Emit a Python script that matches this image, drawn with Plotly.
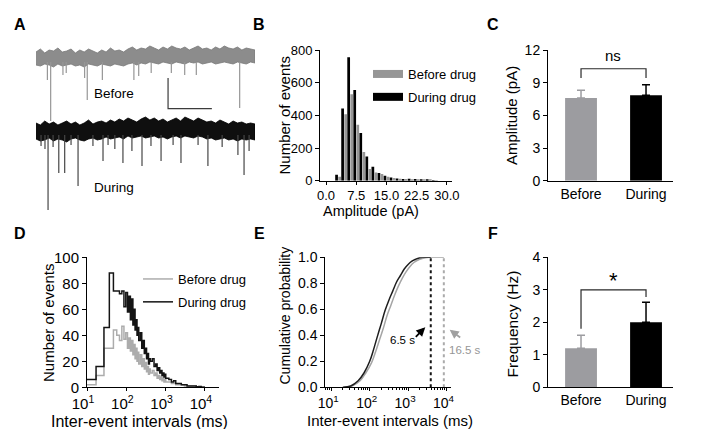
import plotly.graph_objects as go

W, H = 708, 429
FONT = "Liberation Sans, Arial, sans-serif"


def px(x):
    return x / W


def py(y):
    return 1 - y / H


# ---------------- DATA ----------------
# A: example traces (time in s, current in pA relative to baseline); noise envelope read per 0.2 s
trace_t = [round(i * 0.2, 1) for i in range(51)]
before_hi = [6, 9, 5, 8, 7, 10, 6, 7, 9, 5, 8, 6, 9, 7, 5, 8, 6, 10, 7, 8, 6, 9, 11, 8, 10, 9,
             12, 10, 8, 11, 9, 12, 10, 9, 11, 8, 10, 12, 9, 10, 8, 11, 9, 12, 10, 9, 11, 8, 10, 9, 8]
before_lo = [-7, -8, -6, -7, -9, -6, -8, -7, -6, -8, -7, -9, -6, -7, -8, -6, -7, -8, -6, -7,
             -8, -6, -5, -7, -5, -6, -4, -5, -6, -4, -5, -6, -4, -5, -6, -4, -5, -4, -6, -5,
             -4, -6, -5, -4, -5, -6, -4, -5, -6, -4, -5]
during_hi = [8, 6, 10, 7, 9, 6, 8, 10, 7, 9, 6, 8, 11, 7, 9, 10, 8, 11, 9, 12, 10, 13, 11, 9,
             12, 14, 11, 13, 10, 12, 9, 11, 13, 10, 14, 12, 10, 13, 11, 9, 10, 8, 11, 9, 7, 10,
             8, 9, 7, 8, 7]
during_lo = [-8, -10, -9, -7, -10, -8, -9, -11, -8, -7, -9, -10, -8, -7, -9, -8, -6, -8, -7, -6,
             -8, -5, -7, -6, -5, -7, -6, -5, -7, -6, -8, -6, -5, -7, -5, -6, -7, -5, -6, -8,
             -7, -9, -8, -7, -9, -8, -10, -8, -9, -8, -9]
before_evt_t = [0.52, 0.67, 1.23, 1.38, 2.22, 2.34, 3.03, 4.47, 4.69, 5.26, 6.18, 6.79, 7.32, 9.3]
before_evt_amp = [22, 63, 17, 15, 20, 42, 22, 22, 18, 15, 15, 17, 17, 50]
during_evt_t = [0.23, 0.41, 0.55, 0.78, 1.04, 1.31, 1.6, 1.92, 2.6, 3.06, 3.29, 3.6, 3.97,
                4.38, 4.84, 5.25, 5.71, 6.26, 6.62, 7.4, 7.85, 8.5, 9.22, 9.5, 9.73]
during_evt_amp = [15, 18, 79, 16, 42, 42, 14, 55, 15, 30, 14, 18, 32,
                  20, 35, 15, 30, 14, 32, 14, 35, 16, 24, 44, 20]
before_offset, during_offset = 0, -73
scalebar_t, scalebar_len_s = 6.03, 2.0
scalebar_top, scalebar_len_pA = -20, 30.7

# B: amplitude histogram
amp_bins = [3.0, 4.5, 6.0, 7.5, 9.0, 10.5, 12.0, 13.5, 15.0, 16.5, 18.0, 19.5, 21.0, 22.5, 24.0,
            25.5, 27.0]
amp_before = [24, 408, 531, 344, 176, 72, 51, 41, 24, 16, 12, 10, 8, 6, 5, 3, 2]
amp_during = [37, 443, 758, 556, 293, 149, 86, 47, 31, 20, 14, 10, 12, 10, 6, 4, 2]

# C: mean amplitude
groups = ["Before", "During"]
amp_mean = [7.6, 7.86]
amp_sem = [0.72, 0.98]

# D: inter-event interval histogram (bin edges in ms)
iei_edges = [10, 17, 27, 37, 47, 57, 67, 77, 87, 97, 107, 117, 127, 137, 147, 157, 167, 177, 187,
             197, 207, 227, 247, 267, 287, 307, 327, 347, 367, 387, 407, 457, 507, 557, 607, 657,
             707, 757, 807, 857, 907, 957, 1007, 1207, 1407, 1607, 1807, 2007, 2507, 3007, 3507,
             4007, 5007, 6007, 7007, 8007, 9007, 10007]
iei_before = [2, 9, 30, 30, 44, 40, 36, 47, 37, 42, 30, 38, 28, 36, 25, 33, 22, 30, 20, 27,
              18, 25, 16, 22, 14, 19, 12, 16, 10, 14,
              11, 13, 9, 11, 7, 9, 6, 8, 5, 7, 4, 6,
              4, 4, 3, 3, 2, 2, 2, 1, 1, 1, 1, 0.5, 1, 0.5, 0.5]
iei_during = [6, 16, 46, 88, 74, 74, 72, 74, 62, 73, 58, 70, 52, 68, 48, 60, 44, 52, 40, 46,
              36, 42, 30, 36, 26, 30, 22, 26, 18, 22,
              20, 22, 16, 18, 13, 15, 11, 13, 9, 11, 8, 10,
              7, 6, 4, 5, 3, 3, 2, 2, 1, 1, 1, 0.5, 0.5, 0, 0]

# E: cumulative probability
cdf_during_ms = [20, 32, 50, 71, 100, 126, 158, 200, 251, 316, 398, 501, 631, 794, 1000, 1259,
                 1585, 1995, 2512, 3890]
cdf_during_p = [0.0, 0.01, 0.05, 0.11, 0.2, 0.29, 0.39, 0.49, 0.59, 0.67, 0.74, 0.81, 0.86, 0.91,
                0.945, 0.97, 0.985, 0.997, 1.0, 1.0]
cdf_before_ms = [22, 35, 56, 79, 112, 141, 178, 224, 282, 355, 447, 562, 708, 891, 1122, 1413,
                 1995, 2818, 3548, 8510]
cdf_before_p = [0.0, 0.01, 0.05, 0.11, 0.19, 0.27, 0.36, 0.45, 0.55, 0.63, 0.71, 0.78, 0.84, 0.89,
                0.93, 0.96, 0.985, 0.997, 1.0, 1.0]
max_iei_ms = [3890, 8510]
max_iei_label = ["6.5 s", "16.5 s"]

# F: frequency
freq_mean = [1.2, 2.0]
freq_sem = [0.4, 0.62]

GRAY_TRACE = "rgb(140,140,140)"
GRAY_BAR = "rgb(156,156,160)"
GRAY_HIST = "rgb(150,150,150)"
GRAY_LINE = "rgb(172,172,172)"
BLACK = "rgb(0,0,0)"

fig = go.Figure()

# ---------------- A ----------------
for base, hi, lo, col, edge in [(before_offset, before_hi, before_lo, GRAY_TRACE, "rgb(120,120,120)"),
                                (during_offset, during_hi, during_lo, "rgb(15,15,15)", "rgb(0,0,0)")]:
    fig.add_trace(go.Scatter(
        x=trace_t + trace_t[::-1],
        y=[base + v for v in hi] + [base + v for v in lo[::-1]],
        fill="toself", fillcolor=col, mode="lines", line=dict(color=edge, width=0.8),
        xaxis="x", yaxis="y", showlegend=False, hoverinfo="skip"))

for base, ts, amps, col in [(before_offset, before_evt_t, before_evt_amp, "rgb(150,150,150)"),
                            (during_offset, during_evt_t, during_evt_amp, "rgb(70,70,70)")]:
    xs, ys = [], []
    for t, a in zip(ts, amps):
        xs += [t, t, None]
        ys += [base - 4, base - a, None]
    fig.add_trace(go.Scatter(x=xs, y=ys, mode="lines", line=dict(color=col, width=1.2),
                             xaxis="x", yaxis="y", showlegend=False, hoverinfo="skip"))

# scale bar
fig.add_trace(go.Scatter(
    x=[scalebar_t, scalebar_t, scalebar_t + scalebar_len_s],
    y=[scalebar_top, scalebar_top - scalebar_len_pA, scalebar_top - scalebar_len_pA],
    mode="lines", line=dict(color="rgb(60,60,60)", width=1.2),
    xaxis="x", yaxis="y", showlegend=False, hoverinfo="skip"))

# ---------------- B ----------------
fig.add_trace(go.Bar(x=amp_bins, y=amp_during, name="During drug", marker_color=BLACK,
                     width=0.68, offset=-0.72, xaxis="x2", yaxis="y2", showlegend=False,
                     marker_line_width=0))
fig.add_trace(go.Bar(x=amp_bins, y=amp_before, name="Before drug", marker_color=GRAY_HIST,
                     width=0.68, offset=0.04, xaxis="x2", yaxis="y2", showlegend=False,
                     marker_line_width=0))
# legend entries for B drawn as wide swatches
for name, col, rank in [("Before drug", GRAY_HIST, 1), ("During drug", BLACK, 2)]:
    fig.add_trace(go.Scatter(x=[None], y=[None], mode="lines", name=name,
                             line=dict(color=col, width=8), xaxis="x2", yaxis="y2",
                             legend="legend", legendrank=rank, legendgroup="b" + str(rank)))

# ---------------- C ----------------
for i, col in enumerate([GRAY_BAR, BLACK]):
    fig.add_trace(go.Bar(
        x=[groups[i]], y=[amp_mean[i]], width=0.49, marker_color=col, showlegend=False,
        marker_line_width=0,
        error_y=dict(type="data", array=[amp_sem[i]], arrayminus=[0], symmetric=False,
                     color=col, thickness=1.5, width=4),
        xaxis="x3", yaxis="y3"))
fig.add_trace(go.Scatter(x=[groups[0], groups[0], groups[1], groups[1]],
                         y=[9.45, 10.3, 10.3, 9.45], mode="lines",
                         line=dict(color="rgb(40,40,40)", width=1.2),
                         xaxis="x3", yaxis="y3", showlegend=False, hoverinfo="skip"))

# ---------------- D ----------------
for name, counts, col, rank in [("Before drug", iei_before, GRAY_LINE, 1),
                                ("During drug", iei_during, "rgb(20,20,20)", 2)]:
    fig.add_trace(go.Scatter(x=iei_edges, y=counts + [counts[-1]], mode="lines",
                             line=dict(color=col, width=1.5, shape="hv"), name=name,
                             xaxis="x4", yaxis="y4", legend="legend2", legendrank=rank,
                             legendgroup="d" + str(rank)))

# ---------------- E ----------------
fig.add_trace(go.Scatter(x=cdf_before_ms, y=cdf_before_p, mode="lines",
                         line=dict(color="rgb(165,165,165)", width=1.5, shape="spline"),
                         xaxis="x5", yaxis="y5", showlegend=False))
fig.add_trace(go.Scatter(x=cdf_during_ms, y=cdf_during_p, mode="lines",
                         line=dict(color="rgb(30,30,30)", width=1.5, shape="spline"),
                         xaxis="x5", yaxis="y5", showlegend=False))
for ms, col in zip(max_iei_ms, ["rgb(20,20,20)", "rgb(170,170,170)"]):
    fig.add_trace(go.Scatter(x=[ms, ms], y=[0, 1], mode="lines",
                             line=dict(color=col, width=2, dash="dot"),
                             xaxis="x5", yaxis="y5", showlegend=False, hoverinfo="skip"))

# ---------------- F ----------------
for i, col in enumerate([GRAY_BAR, BLACK]):
    fig.add_trace(go.Bar(
        x=[groups[i]], y=[freq_mean[i]], width=0.49, marker_color=col, showlegend=False,
        marker_line_width=0,
        error_y=dict(type="data", array=[freq_sem[i]], arrayminus=[0], symmetric=False,
                     color=col, thickness=1.5, width=4),
        xaxis="x6", yaxis="y6"))
fig.add_trace(go.Scatter(x=[groups[0], groups[0], groups[1], groups[1]],
                         y=[1.8, 3.0, 3.0, 2.78], mode="lines",
                         line=dict(color="rgb(40,40,40)", width=1.2),
                         xaxis="x6", yaxis="y6", showlegend=False, hoverinfo="skip"))


# ---------------- LAYOUT ----------------
def ax(**kw):
    d = dict(showline=True, linecolor="black", linewidth=1, ticks="outside", ticklen=4,
             tickwidth=1, tickcolor="black", showgrid=False, zeroline=False, automargin=False,
             tickfont=dict(family=FONT, size=14, color="black"), tickangle=0, fixedrange=True)
    d.update(kw)
    return d


def sup_labels(vals):
    return ["10<sup>%d</sup>" % v for v in vals]


fig.update_layout(
    template="none",
    width=W, height=H, margin=dict(l=0, r=0, t=0, b=0, pad=0, autoexpand=False),
    paper_bgcolor="white", plot_bgcolor="rgba(0,0,0,0)",
    barmode="overlay", font=dict(family=FONT, color="black"),
    xaxis=dict(domain=[px(28), px(247)], range=[0, 10], visible=False, fixedrange=True,
               automargin=False),
    yaxis=dict(domain=[py(205), py(30)], range=[-155, 20], visible=False, fixedrange=True,
               automargin=False),
    xaxis2=ax(domain=[px(312), px(444)], range=[-1.49, 31.26], anchor="y2", ticklen=3,
              tickvals=[0, 7.5, 15, 22.5, 30], tickformat=".1f", tickfont=dict(family=FONT, size=13)),
    yaxis2=ax(domain=[py(172.7), py(42.3)], range=[0, 800], anchor="x2",
              tickvals=[0, 200, 400, 600, 800], tickfont=dict(family=FONT, size=13)),
    xaxis3=ax(domain=[px(540), px(665)], range=[-0.508, 1.415], anchor="y3", type="category",
              categoryarray=groups, ticks=""),
    yaxis3=ax(domain=[py(172.7), py(42.3)], range=[0, 12], anchor="x3", tickvals=[0, 3, 6, 9, 12]),
    xaxis4=ax(domain=[px(79), px(210.7)], type="log", range=[1, 4.35], anchor="y4", ticklen=3,
              tickvals=[10, 100, 1000, 10000], ticktext=sup_labels([1, 2, 3, 4]),
              ticklabelshift=-4, tickfont=dict(family=FONT, size=15)),
    yaxis4=ax(domain=[py(379.3), py(249.3)], range=[0, 100], anchor="x4",
              tickvals=[0, 20, 40, 60, 80, 100], tickfont=dict(family=FONT, size=15)),
    xaxis5=ax(domain=[px(317.3), px(443)], type="log", range=[0.844, 4.117], anchor="y5",
              ticklen=3, ticklabelshift=-3,
              tickvals=[10, 100, 1000, 10000], ticktext=sup_labels([1, 2, 3, 4]),
              minor=dict(ticks="outside", ticklen=2, tickcolor="black",
                         tickvals=[m * 10 ** e for e in range(0, 4) for m in range(2, 10)])),
    yaxis5=ax(domain=[py(379.3), py(249.3)], range=[0, 1], anchor="x5",
              tickvals=[0, 0.2, 0.4, 0.6, 0.8, 1.0], tickformat=".1f"),
    xaxis6=ax(domain=[px(540), px(665)], range=[-0.508, 1.415], anchor="y6", type="category",
              categoryarray=groups, ticks=""),
    yaxis6=ax(domain=[py(379.3), py(249.3)], range=[0, 4], anchor="x6", tickvals=[0, 1, 2, 3, 4]),
    legend=dict(x=px(360), y=py(51), xanchor="left", yanchor="top", bgcolor="rgba(0,0,0,0)",
                font=dict(family=FONT, size=13), tracegroupgap=3, itemwidth=30, borderwidth=0),
    legend2=dict(x=px(130), y=py(256), xanchor="left", yanchor="top", bgcolor="rgba(0,0,0,0)",
                 font=dict(family=FONT, size=13), tracegroupgap=3, itemwidth=30, borderwidth=0),
)

ann = []


def text(x, y, s, size, angle=0, bold=False, color="black"):
    ann.append(dict(x=px(x), y=py(y), xref="paper", yref="paper",
                    text=("<b>%s</b>" % s) if bold else s,
                    showarrow=False, textangle=angle, xanchor="center", yanchor="middle",
                    font=dict(family=FONT, size=size, color=color)))


for lab, (x, y) in zip("ABCDEF", [(12, 17), (251, 17), (485, 17), (12, 225), (251, 225), (485, 225)]):
    text(x, y, lab, 16, bold=True)

text(106, 85, "Before", 13.5)
text(106, 179, "During", 13.5)
text(275.5, 108, "Number of events", 15, -90)
text(363, 202.5, "Amplitude (pA)", 14.5)
text(503, 108, "Amplitude (pA)", 15, -90)
text(605, 47.7, "ns", 15)
text(40, 315, "Number of events", 15, -90)
text(131, 413, "Inter-event intervals (ms)", 16)
text(276.5, 308, "Cumulative probability", 14, -90)
text(381.5, 412, "Inter-event intervals (ms)", 15)
text(503.5, 316, "Frequency (Hz)", 15.5, -90)
text(605, 272, "*", 22)
text(394, 332, max_iei_label[0], 11.5)
text(457, 342, max_iei_label[1], 11.5, color="rgb(150,150,150)")

ann.append(dict(x=px(417.3), y=py(319.3), xref="paper", yref="paper", ax=-11, ay=11, text="",
                showarrow=True, arrowhead=2, arrowsize=1, arrowwidth=1.8, arrowcolor="black"))
ann.append(dict(x=px(441.7), y=py(321.7), xref="paper", yref="paper", ax=12, ay=9, text="",
                showarrow=True, arrowhead=2, arrowsize=1, arrowwidth=1.8,
                arrowcolor="rgb(160,160,160)"))

fig.update_layout(annotations=ann)
fig.write_html("out.html")
